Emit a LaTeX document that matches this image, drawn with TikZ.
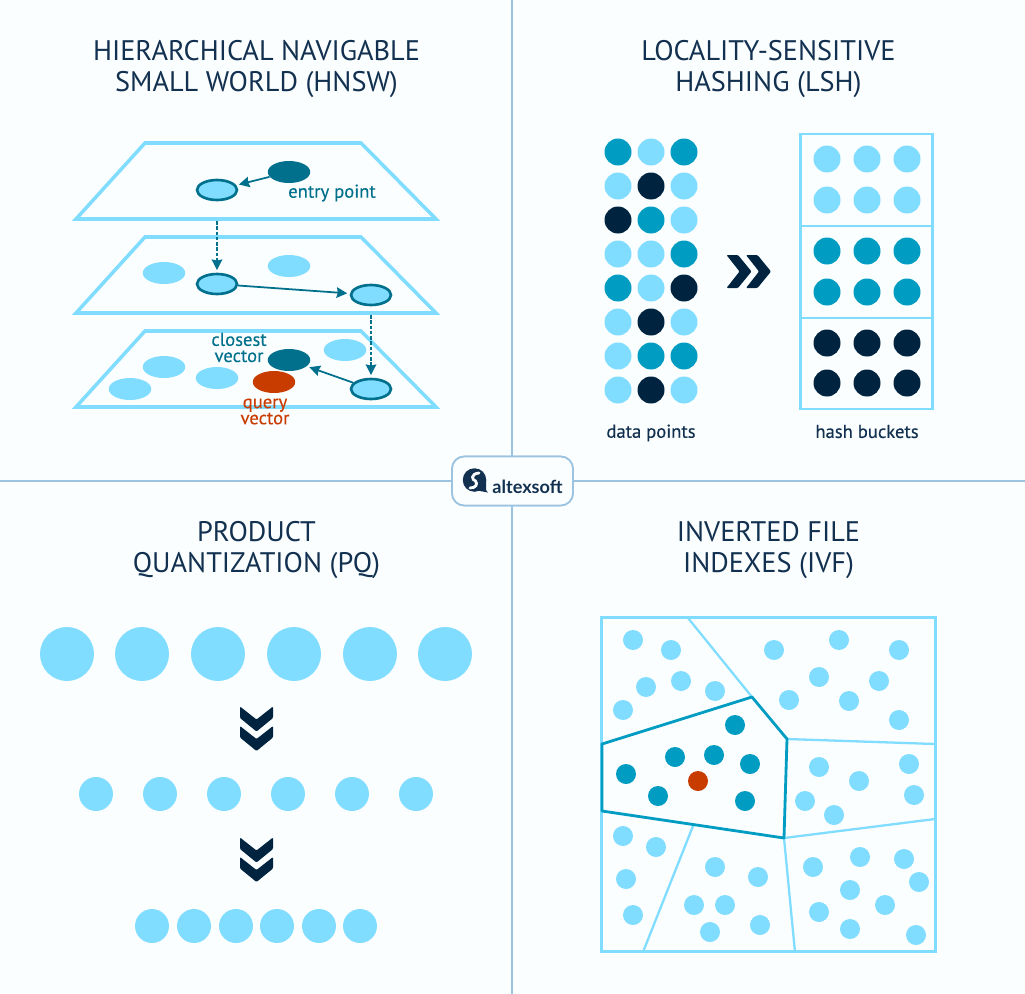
\documentclass[tikz,border=0pt]{standalone}
\usepackage{fontspec}
\setmainfont{PT Sans}
\newfontfamily\labelfont[FakeBold=0.25]{PT Sans}
\newfontfamily\logofont{Lato}
\usetikzlibrary{shapes.geometric,arrows.meta}
\definecolor{paper}{HTML}{FBFEFF}
\definecolor{rule}{HTML}{9CC4E0}
\definecolor{ink}{HTML}{12304F}
\definecolor{pale}{HTML}{80DDFF}
\definecolor{mid}{HTML}{009CC2}
\definecolor{teal}{HTML}{00708C}
\definecolor{query}{HTML}{C93C00}
\definecolor{navy}{HTML}{00243F}
\begin{document}
\begin{tikzpicture}[
    x=0.02cm, y=-0.02cm,
    title text/.style={text=ink, font=\fontsize{16.1}{17.6}\selectfont, align=center},
    small label/.style={font=\labelfont\fontsize{10.6}{9.2}\selectfont, align=center},
    plane line/.style={draw=pale, line width=2pt},
    box line/.style={draw=pale, line width=1.7pt},
    cell line/.style={draw=pale, line width=1.3pt},
    cell edge/.style={draw=mid, line width=1.6pt, line join=round},
    flat node/.style={ellipse, inner sep=0pt, minimum width=0.85cm, minimum height=0.44cm},
    pale node/.style={flat node, fill=pale},
    ring node/.style={flat node, fill=pale, draw=teal, line width=1.5pt, minimum width=0.8cm, minimum height=0.40cm},
    hop/.style={draw=teal, line width=1pt, -{Stealth[length=6pt, width=6pt, inset=0.6pt]}, shorten >=1.5pt},
    drop/.style={hop, dash pattern=on 2pt off 1pt},
    dot/.style={circle, inner sep=0pt, minimum size=0.40cm, fill=pale},
    pics/chevrons/.style={code={
        \fill[navy, rounded corners=0.6pt] (-22.5,-16.5) -- (-11,-16.5) -- (2.5,0) -- (-11,16.5) -- (-22.5,16.5) -- (-9.5,0) -- cycle;
        \fill[navy, rounded corners=0.6pt] (-3,-16.5) -- (8.5,-16.5) -- (22,0) -- (8.5,16.5) -- (-3,16.5) -- (10,0) -- cycle;
    }}
]
\fill[paper] (0,0) rectangle (1025,994);
\useasboundingbox (0,0) rectangle (1025,994);

% Dividers and logo
\node[draw=rule, fill=paper, line width=1pt, rounded corners=7pt, minimum width=2.42cm, minimum height=0.98cm] (logo) at (512.5,481) {};
\coordinate (top) at (512,0);
\coordinate (bottom) at (512,994);
\coordinate (left) at (0,481);
\coordinate (right) at (1025,481);
\draw[rule, line width=0.8pt] (top) -- (512,481) (512,481) -- (bottom) (left) -- (logo) (logo) -- (right);
\node[draw=rule, fill=paper, line width=1pt, rounded corners=7pt, minimum width=2.42cm, minimum height=0.98cm] (logobox) at (512.5,481) {};
\fill[ink] (474.5,480) circle (0.235cm);
\fill[ink] (474.5,490) -- (486,480) -- (486,490) to[out=90, in=180] (488,492.5) -- cycle;
\draw[paper, line width=1.6pt, line cap=round] (479,473) .. controls (470,474) and (472,480) .. (475.5,481) .. controls (478,484) and (476,488) .. (470,488);
\node[text=ink, font=\logofont\bfseries\fontsize{10.3}{10}\selectfont] (logotext) at (527.5,487) {altexsoft};

% Titles
\node[title text] (hnswtitle) at (256.5,69) {HIERARCHICAL NAVIGABLE\\SMALL WORLD (HNSW)};
\node[title text] (lshtitle) at (768.5,69) {LOCALITY-SENSITIVE\\HASHING (LSH)};
\node[title text] (pqtitle) at (256.5,550) {PRODUCT\\QUANTIZATION (PQ)};
\node[title text] (ivftitle) at (768.5,550) {INVERTED FILE\\INDEXES (IVF)};

% HNSW planes
\foreach \y in {143,237,331} {
    \draw[plane line] (145,\y) -- (361,\y) -- (436,\y+76) -- (76,\y+76) -- cycle;
}
\foreach \x/\y in {164/273,289/266,345/350,164/367,217/378,130/389} {
    \node[pale node] at (\x,\y) {};
}
\node[flat node, fill=teal] (entry) at (289,172) {};
\node[ring node] (upper) at (217,190) {};
\node[ring node] (midleft) at (217,284) {};
\node[ring node] (midright) at (371,295) {};
\node[ring node] (lower) at (371,389) {};
\node[flat node, fill=teal] (closest) at (289,360) {};
\node[flat node, fill=query] (querynode) at (274,382) {};
\coordinate (dropa) at (217,221);
\coordinate (dropb) at (371,315);
\draw[hop] (entry) -- (upper);
\draw[drop] (dropa) -- (midleft);
\draw[hop] (midleft) -- (midright);
\draw[drop] (dropb) -- (lower);
\draw[hop] (lower) -- (closest);
\node[small label, text=teal] (entrylabel) at (332,193) {entry point};
\node[small label, text=teal] (closestlabel) at (239,347.5) {closest\\vector};
\node[small label, text=query] (querylabel) at (265,411.5) {query\\vector};

% LSH points
\foreach \x/\y/\c in {
    618/152/mid, 651/152/pale, 684/152/mid,
    618/186/pale, 651/186/navy, 684/186/pale,
    618/220/navy, 651/220/mid, 684/220/pale,
    618/254/pale, 651/254/pale, 684/254/mid,
    618/288/mid, 651/288/pale, 684/288/navy,
    618/322/pale, 651/322/navy, 684/322/pale,
    618/356/pale, 651/356/mid, 684/356/mid,
    618/390/pale, 651/390/navy, 684/390/pale} {
    \node[dot, fill=\c, minimum size=0.54cm] at (\x,\y) {};
}
\pic at (749,271.5) {chevrons};

% LSH buckets
\draw[box line] (800.5,134) rectangle (932.5,409);
\draw[box line] (800.5,226) -- (932.5,226) (800.5,318) -- (932.5,318);
\foreach \x in {827,867,907} {
    \foreach \y/\c in {159/pale,200/pale,251/mid,292/mid,343/navy,383/navy} {
        \node[dot, fill=\c, minimum size=0.54cm] at (\x,\y) {};
    }
}
\node[small label, text=ink] (datalabel) at (651,433) {data points};
\node[small label, text=ink] (bucketlabel) at (867,431.5) {hash buckets};

% PQ rows
\foreach \x in {67,142,218,294,370,445} { \node[dot, minimum size=1.08cm] at (\x,654) {}; }
\foreach \x in {96,160,224,288,352,416} { \node[dot, minimum size=0.68cm] at (\x,794) {}; }
\foreach \x in {152,194,236,277,319,360} { \node[dot, minimum size=0.68cm] at (\x,926) {}; }
\pic[rotate=-90] at (256.5,729) {chevrons};
\pic[rotate=-90] at (256.5,860) {chevrons};

% IVF cells
\draw[cell line] (688,618) -- (752,697);
\draw[cell line] (787,739) -- (935,744);
\draw[cell line] (784,838) -- (935,819);
\draw[cell line] (784,838) -- (795,952);
\draw[cell line] (693,826) -- (643,952);
\draw[box line] (601.5,617) rectangle (935.5,951.5);
\draw[cell edge] (602,744) -- (752,697) -- (787,739) -- (784,838) -- (602,811) -- cycle;
\foreach \x/\y in {
    633/640, 671/650, 646/687, 681/681, 715/691, 623/710,
    774/650, 839/640, 899/650, 819/677, 879/681, 789/700, 849/701, 899/720,
    819/767, 859/781, 909/764, 914/795, 805/801, 834/815,
    623/836, 656/847, 626/879, 633/915,
    715/867, 758/877, 694/905, 725/905, 710/932, 760/925,
    813/867, 860/857, 904/859, 919/882, 850/890, 885/905, 819/912, 850/929, 916/935} {
    \node[dot] at (\x,\y) {};
}
\foreach \x/\y in {735/725, 675/757, 714/755, 750/764, 626/774, 658/796, 745/801} {
    \node[dot, fill=mid] at (\x,\y) {};
}
\node[dot, fill=query] (queryspot) at (698,781) {};
\end{tikzpicture}
\end{document}
